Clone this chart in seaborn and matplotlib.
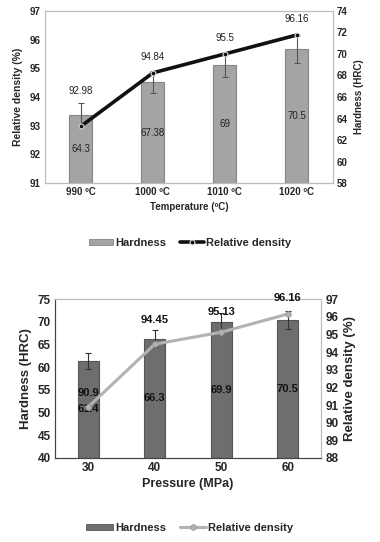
import numpy as np
import pandas as pd
import matplotlib
matplotlib.use("Agg")
import matplotlib.pyplot as plt
import seaborn as sns
from matplotlib.lines import Line2D
from matplotlib.patches import Patch

sns.set_theme(style="white")
plt.rcParams['font.family'] = ['Liberation Sans', 'DejaVu Sans']
plt.rcParams['font.weight'] = 'bold'

# top panel: sintering temperature
temps = ['990 \u00baC', '1000 \u00baC', '1010 \u00baC', '1020 \u00baC']
temp_hardness = [64.3, 67.38, 69, 70.5]
temp_hardness_err = [1.1, 1.0, 1.1, 1.3]
temp_density = [92.98, 94.84, 95.5, 96.16]
temp_hard_labels = ['64.3', '67.38', '69', '70.5']
temp_dens_labels = ['92.98', '94.84', '95.5', '96.16']

# bottom panel: pressure
pressures = ['30', '40', '50', '60']
pres_hardness = [61.4, 66.3, 69.9, 70.5]
pres_hardness_err = [1.8, 1.9, 2.0, 2.0]
pres_density = [90.9, 94.45, 95.13, 96.16]
pres_hard_labels = ['61.4', '66.3', '69.9', '70.5']
pres_dens_labels = ['90.9', '94.45', '95.13', '96.16']

df1 = pd.DataFrame({'temp': temps, 'hardness': temp_hardness, 'density': temp_density})
df2 = pd.DataFrame({'pressure': pressures, 'hardness': pres_hardness, 'density': pres_density})

fig = plt.figure(figsize=(3.8, 5.42), dpi=100)
frame_col = '#bdbdbd'

# ---------- top ----------
ax1 = fig.add_axes([0.118, 0.662, 0.758, 0.318])
sns.barplot(data=df1, x='temp', y='hardness', color='#a4a4a4', width=0.32,
            edgecolor='#858585', linewidth=0.8, saturation=1, errorbar=None, ax=ax1, zorder=2)
ax1.errorbar(range(len(temps)), temp_hardness, yerr=temp_hardness_err, fmt='none',
             ecolor='#555555', elinewidth=0.8, capsize=2.5, capthick=0.8, zorder=3)
ax1.set_ylim(58, 74)
ax1.set_yticks(np.arange(58, 75, 2))
ax1.set_xlabel('Temperature (\u00baC)', fontsize=7, fontweight='bold', labelpad=3)
for i, t in enumerate(temp_hard_labels):
    ax1.text(i, (58 + temp_hardness[i]) / 2, t, ha='center', va='center',
             fontsize=7, fontweight='normal', color='#222222', zorder=4)

ax2 = ax1.twinx()
sns.pointplot(data=df1, x='temp', y='density', color='#111111', markers='o',
              linestyles='-', ax=ax2, markersize=3.5, linewidth=2.6, errorbar=None,
              markeredgecolor='#dddddd', markeredgewidth=0.8)
ax2.set_ylim(91, 97)
ax2.set_yticks(np.arange(91, 98, 1))
ax2.set_xlim(-0.5, 3.5)
top_offsets = [22, 8, 8, 8]
for i, t in enumerate(temp_dens_labels):
    ax2.annotate(t, (i, temp_density[i]), xytext=(0, top_offsets[i]), textcoords='offset points',
                 ha='center', va='bottom', fontsize=7, fontweight='normal', color='#222222')

# hardness axis on the right, density axis on the left
ax1.yaxis.tick_right()
ax1.yaxis.set_label_position('right')
ax2.yaxis.tick_left()
ax2.yaxis.set_label_position('left')
ax1.set_ylabel('Hardness (HRC)', fontsize=7, fontweight='bold', labelpad=4)
ax2.set_ylabel('Relative density (%)', fontsize=7.5, fontweight='bold', labelpad=5)

for a in (ax1, ax2):
    a.tick_params(axis='both', length=0, labelsize=7, pad=3)
    for s in a.spines.values():
        s.set_color(frame_col)
        s.set_linewidth(0.8)
ax1.spines['bottom'].set_color('#999999')
for lab in ax1.get_xticklabels() + ax1.get_yticklabels() + ax2.get_yticklabels():
    lab.set_fontweight('bold')

h1 = [Patch(facecolor='#a4a4a4', edgecolor='#858585', linewidth=0.6),
      Line2D([0], [0], color='#111111', lw=2.6, marker='o', markersize=3.5,
             markeredgecolor='#dddddd', markeredgewidth=0.8)]
fig.legend(h1, ['Hardness', 'Relative density'], loc='center', bbox_to_anchor=(0.5, 1 - 243 / 542),
           ncol=2, frameon=False, fontsize=8, handlelength=2.2, handleheight=0.5,
           handletextpad=0.2, columnspacing=1.2)

# ---------- bottom ----------
ax3 = fig.add_axes([0.145, 0.155, 0.700, 0.293])
sns.barplot(data=df2, x='pressure', y='hardness', color='#6e6e6e', width=0.32,
            edgecolor='#555555', linewidth=0.8, saturation=1, errorbar=None, ax=ax3, zorder=2)
ax3.errorbar(range(len(pressures)), pres_hardness, yerr=pres_hardness_err, fmt='none',
             ecolor='#333333', elinewidth=0.8, capsize=2.5, capthick=0.8, zorder=3)
ax3.set_ylim(40, 75)
ax3.set_yticks(np.arange(40, 76, 5))
ax3.set_ylabel('Hardness (HRC)', fontsize=9.5, fontweight='bold', labelpad=4)
ax3.set_xlabel('Pressure (MPa)', fontsize=9, fontweight='bold', labelpad=3)
for i, t in enumerate(pres_hard_labels):
    ax3.text(i, (40 + pres_hardness[i]) / 2, t, ha='center', va='center',
             fontsize=8, fontweight='bold', color='#111111', zorder=4)

ax4 = ax3.twinx()
sns.pointplot(data=df2, x='pressure', y='density', color='#b2b2b2', markers='o',
              linestyles='-', ax=ax4, markersize=4, linewidth=2.2, errorbar=None,
              markeredgecolor='#9a9a9a', markeredgewidth=0.6)
ax4.set_ylim(88, 97)
ax4.set_yticks(np.arange(88, 98, 1))
ax4.yaxis.tick_right()
ax4.yaxis.set_label_position('right')
ax4.set_ylabel('Relative density (%)', fontsize=9.5, fontweight='bold', labelpad=4)
ax4.set_xlim(-0.5, 3.5)
bot_offsets = [6, 14, 11, 8]
for i, t in enumerate(pres_dens_labels):
    ax4.annotate(t, (i, pres_density[i]), xytext=(0, bot_offsets[i]), textcoords='offset points',
                 ha='center', va='bottom', fontsize=8, fontweight='bold', color='#111111')

for a in (ax3, ax4):
    a.tick_params(axis='both', length=0, labelsize=8.5, pad=3)
    for s in a.spines.values():
        s.set_color(frame_col)
        s.set_linewidth(0.8)
ax3.spines['left'].set_color('#444444')
ax3.spines['bottom'].set_color('#444444')
ax4.spines['left'].set_color('#444444')
ax4.spines['bottom'].set_color('#444444')
for lab in ax3.get_xticklabels() + ax3.get_yticklabels() + ax4.get_yticklabels():
    lab.set_fontweight('bold')

h2 = [Patch(facecolor='#6e6e6e', edgecolor='#555555', linewidth=0.6),
      Line2D([0], [0], color='#b2b2b2', lw=2.2, marker='o', markersize=4,
             markeredgecolor='#9a9a9a', markeredgewidth=0.6)]
fig.legend(h2, ['Hardness', 'Relative density'], loc='center', bbox_to_anchor=(0.5, 1 - 528 / 542),
           ncol=2, frameon=False, fontsize=8, handlelength=2.4, handleheight=0.5,
           handletextpad=0.2, columnspacing=1.2)

fig.savefig('out.png', dpi=100)
